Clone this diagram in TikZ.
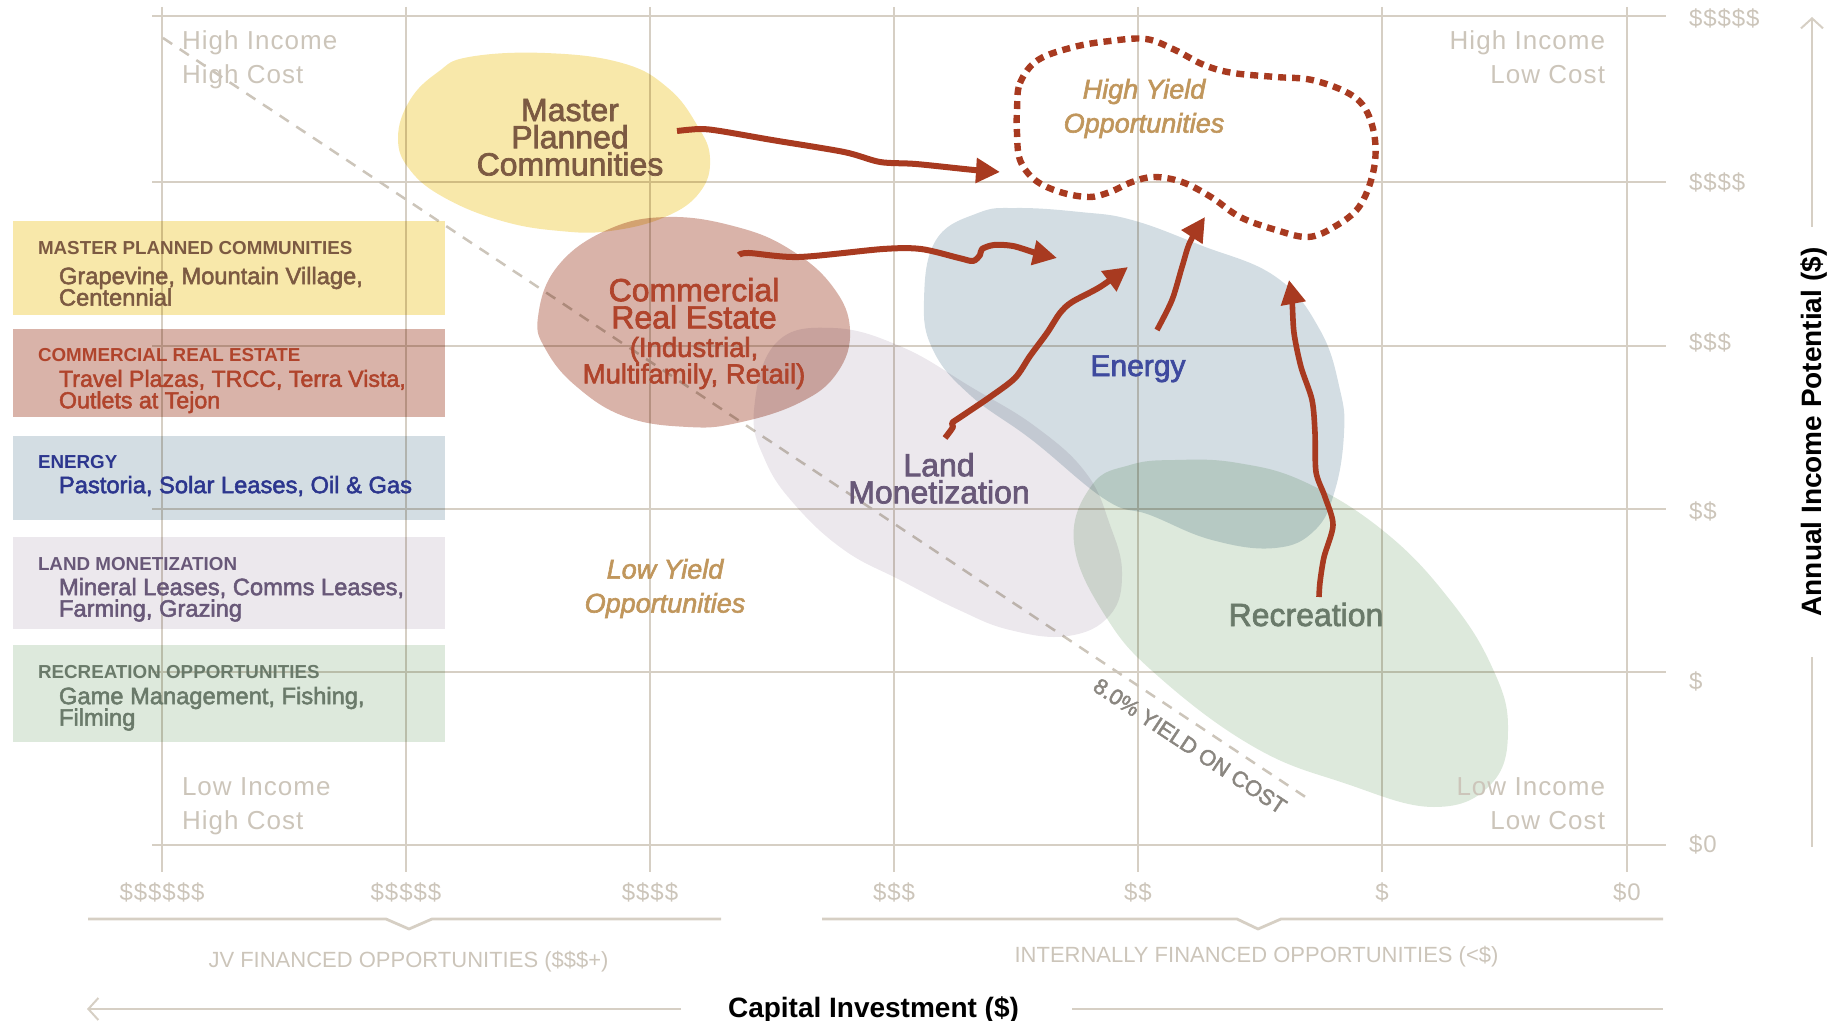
\documentclass[tikz,border=0pt]{standalone}
\usepackage{fontspec}
\setmainfont{Liberation Sans}
\newfontfamily\medium[FakeBold=2.2]{Liberation Sans}
\newfontfamily\tracked[LetterSpace=4]{Liberation Sans}
\usetikzlibrary{arrows.meta}
\newcommand\fsz[2]{\fontsize{#1}{#2}\selectfont\lineskiplimit=-100pt\relax}
\definecolor{gridc}{RGB}{214,207,196}
\definecolor{faint}{RGB}{204,197,186}
\definecolor{rust}{RGB}{168,58,32}
\definecolor{mpcfill}{RGB}{248,232,170}
\definecolor{crefill}{RGB}{217,179,169}
\definecolor{enfill}{RGB}{211,221,227}
\definecolor{lmfill}{RGB}{236,232,237}
\definecolor{recfill}{RGB}{221,233,220}
\definecolor{mpctxt}{RGB}{124,90,66}
\definecolor{cretxt}{RGB}{176,68,44}
\definecolor{entxt}{RGB}{44,54,142}
\definecolor{enlabel}{RGB}{62,74,158}
\definecolor{lmtxt}{RGB}{104,88,120}
\definecolor{rectxt}{RGB}{106,122,106}
\definecolor{yieldtxt}{RGB}{192,150,92}
\definecolor{costtxt}{RGB}{138,134,128}
\begin{document}
\begin{tikzpicture}[x=0.5pt,y=-0.5pt,
  every node/.style={inner sep=0pt,outer sep=0pt},
  vgrid/.style={draw=gridc,line width=0.75pt},
  hgrid/.style={draw=gridc,line width=1pt},
  axisline/.style={draw=gridc,line width=1.4pt},
  axisarrow/.style={axisline,-{Straight Barb[length=5pt,width=11pt,line width=1pt]}},
  quadtxt/.style={text=faint,font=\tracked\fsz{13}{17}},
  ticklab/.style={text=faint,font=\tracked\fsz{12}{14}},
  finlab/.style={text=faint,font=\fsz{11}{13},anchor=base},
  blob/.style={blend mode=multiply},
  legbox/.style={blend mode=multiply},
  leghead/.style={font=\bfseries\fsz{9.4}{11},anchor=base west},
  legbody/.style={font=\medium\fsz{11.85}{10.75},align=left,anchor=north west},
  bubble/.style={font=\medium\fsz{16}{13.6},align=center,anchor=north},
  yieldlab/.style={text=yieldtxt,font=\medium\itshape\fsz{13.5}{17},align=center,anchor=north},
  rustarrow/.style={draw=rust,line width=3pt,line join=round,
    -{Triangle[length=12pt,width=12pt]}},
  hydash/.style={draw=rust,line width=3.2pt,dash pattern=on 4pt off 3pt},
  yieldline/.style={draw=faint,line width=1.25pt,dash pattern=on 5.5pt off 4.5pt}
]
\useasboundingbox (0,0) rectangle (1829,1021);

% ---------- grid ----------
\foreach \gx in {162,406,650,894,1138,1382,1627}
  \draw[vgrid] (\gx,7) -- (\gx,872);
\foreach \gy in {16,182,346,509,672,845}
  \draw[hgrid] (152,\gy) -- (1666,\gy);

% ---------- 8% yield line ----------
\coordinate (yl1) at (163,38);
\coordinate (yl2) at (1307,798);
\draw[yieldline] (yl1) -- (yl2);

% ---------- legend boxes ----------
\fill[legbox,mpcfill] (13,221) rectangle (445,315);
\fill[legbox,crefill] (13,329) rectangle (445,417);
\fill[legbox,enfill]  (13,436) rectangle (445,520);
\fill[legbox,lmfill]  (13,537) rectangle (445,629);
\fill[legbox,recfill] (13,645) rectangle (445,742);

% ---------- opportunity regions ----------
\fill[blob,mpcfill] plot[smooth cycle,tension=0.7] coordinates {
  (469,57) (545,53) (622,63) (668,88) (697,125) (710,158) (700,192)
  (665,217) (610,231) (560,231) (502,221) (445,198) (410,170) (398,138)
  (410,100) (438,72)};
\fill[blob,crefill] plot[smooth cycle,tension=0.7] coordinates {
  (668,217) (737,227) (791,250) (833,287) (850,330) (837,373) (799,403)
  (737,423) (688,427) (626,417) (577,387) (546,350) (538,317) (557,267)
  (607,230)};
\fill[blob,lmfill] plot[smooth cycle,tension=0.7] coordinates {
  (776,343) (833,328) (902,347) (971,387) (1036,427) (1086,473)
  (1110,525) (1122,573) (1110,615) (1068,636) (1010,630) (959,610)
  (900,580) (844,550) (795,505) (765,460) (754,410)};
\fill[blob,enfill] plot[smooth cycle,tension=0.7] coordinates {
  (936,240) (978,213) (1017,208) (1080,212) (1132,220) (1200,245)
  (1276,277) (1320,330) (1340,390) (1344,433) (1335,490) (1315,530)
  (1275,548) (1212,540) (1150,515) (1106,500) (1032,440) (970,395)
  (933,350) (924,300)};
\fill[blob,recfill] plot[smooth cycle,tension=0.7] coordinates {
  (1175,460) (1238,463) (1307,483) (1386,533) (1450,600) (1492,667)
  (1508,727) (1492,783) (1434,807) (1344,783) (1254,747) (1159,677)
  (1106,617) (1074,543) (1092,485) (1130,465)};

% ---------- high yield target ----------
\draw[hydash] plot[smooth cycle,tension=0.6] coordinates {
  (1017,110) (1020,83) (1038,60) (1074,47) (1110,41) (1146,39) (1175,50)
  (1204,65) (1233,73) (1276,77) (1312,80) (1348,93) (1366,110) (1375,140)
  (1373,173) (1359,207) (1334,227) (1308,237) (1276,230) (1240,217)
  (1211,197) (1182,182) (1154,177) (1132,182) (1110,192) (1089,197)
  (1060,192) (1035,180) (1020,160) (1017,133)};

% ---------- quadrant captions ----------
\node[quadtxt,align=left,anchor=north west] (qtl) at (182,30.5) {High Income\\High Cost};
\node[quadtxt,align=right,anchor=north east] (qtr) at (1605,30.5) {High Income\\Low Cost};
\node[quadtxt,align=left,anchor=north west] (qbl) at (182,777.5) {Low Income\\High Cost};
\node[quadtxt,align=right,anchor=north east] (qbr) at (1605,777.5) {Low Income\\Low Cost};

% ---------- tick labels ----------
\foreach \lab/\yy [count=\i] in {\$\$\$\$\$/18,\$\$\$\$/182,\$\$\$/342,\$\$/511,\$/681,\$0/844}
  \node[ticklab,anchor=west] (ytick\i) at (1689,\yy) {\lab};
\foreach \lab/\xx [count=\i] in {\$\$\$\$\$\$/162,\$\$\$\$\$/406,\$\$\$\$/650,\$\$\$/894,\$\$/1138,\$/1382,\$0/1627}
  \node[ticklab,anchor=center] (xtick\i) at (\xx,892) {\lab};

% ---------- financing brackets ----------
\draw[axisline,line join=round] (88,919) -- (386,919) -- (409,929) -- (432,919) -- (721,919);
\draw[axisline,line join=round] (822,919) -- (1237,919) -- (1258,929) -- (1281,919) -- (1663,919);
\node[finlab] (jvlab) at (408.5,967) {JV FINANCED OPPORTUNITIES (\$\$\$+)};
\node[finlab] (intlab) at (1256.5,962) {INTERNALLY FINANCED OPPORTUNITIES (<\$)};

% ---------- axes ----------
\node[font=\bfseries\fsz{14}{16},anchor=base] (xaxis) at (873.5,1017) {Capital Investment (\$)};
\coordinate (xl1) at (681,1009);
\coordinate (xl0) at (87,1009);
\coordinate (xr1) at (1072,1009);
\coordinate (xr2) at (1663,1009);
\draw[axisarrow] (xl1) -- (xl0);
\draw[axisline] (xr1) -- (xr2);
\node[font=\bfseries\fsz{14}{16},rotate=90,anchor=base] (yaxis) at (1821,432) {Annual Income Potential (\$)};
\coordinate (yt1) at (1812,227);
\coordinate (yt0) at (1812,17);
\coordinate (yb1) at (1812,657);
\coordinate (yb2) at (1812,847);
\draw[axisarrow,line width=1.1pt] (yt1) -- (yt0);
\draw[axisline,line width=1.1pt] (yb1) -- (yb2);

% ---------- 8% caption ----------
\node[text=costtxt,font=\medium\fsz{11}{13},rotate=-33.6] (yieldcap) at (1190,746) {8.0\% YIELD ON COST};

% ---------- legend text ----------
\node[leghead,text=mpctxt] (hmpc) at (38,255) {MASTER PLANNED COMMUNITIES};
\node[legbody,text=mpctxt] (bmpc) at (59,267) {Grapevine, Mountain Village,\\Centennial};
\node[leghead,text=cretxt] (hcre) at (38,362) {COMMERCIAL REAL ESTATE};
\node[legbody,text=cretxt,font=\medium\fsz{11.6}{10.75}] (bcre) at (59,370) {Travel Plazas, TRCC, Terra Vista,\\Outlets at Tejon};
\node[leghead,text=entxt] (hen) at (38,468) {ENERGY};
\node[legbody,text=entxt] (ben) at (59,476) {Pastoria, Solar Leases, Oil \& Gas};
\node[leghead,text=lmtxt] (hlm) at (38,570) {LAND MONETIZATION};
\node[legbody,text=lmtxt] (blm) at (59,578) {Mineral Leases, Comms Leases,\\Farming, Grazing};
\node[leghead,text=rectxt] (hrec) at (38,678) {RECREATION OPPORTUNITIES};
\node[legbody,text=rectxt] (brec) at (59,687) {Game Management, Fishing,\\Filming};

% ---------- region labels ----------
\node[bubble,text=mpctxt] (mpc) at (570,99) {Master\\Planned\\Communities};
\node[bubble,text=cretxt] (cre) at (694,278) {Commercial\\Real Estate};
\node[bubble,text=cretxt,font=\medium\fsz{13.75}{13.25}] (cresub) at (694,337) {(Industrial,\\Multifamily, Retail)};
\node[bubble,text=enlabel,font=\medium\fsz{15}{14},anchor=base] (energy) at (1138,376) {Energy};
\node[bubble,text=lmtxt] (land) at (939,453) {Land\\Monetization};
\node[bubble,text=rectxt,anchor=base] (rec) at (1306,626) {Recreation};
\node[yieldlab] (hiyield) at (1144,79) {High Yield\\Opportunities};
\node[yieldlab] (loyield) at (665,559) {Low Yield\\Opportunities};

% ---------- movement arrows ----------
\coordinate (a1s) at (677,131);  \coordinate (a1e) at (1000,172);
\coordinate (a2s) at (739,255);  \coordinate (a2e) at (1057,258);
\coordinate (a3s) at (945,438);  \coordinate (a3e) at (1128,267);
\coordinate (a4s) at (1157,330); \coordinate (a4e) at (1205,217);
\coordinate (a5s) at (1319,597); \coordinate (a5e) at (1289,280);
\draw[rustarrow] plot[smooth,tension=0.5] coordinates {
  (a1s) (700,129) (720,131) (772,140) (844,152) (880,162) (916,164) (974,170) (a1e)};
\draw[rustarrow] plot[smooth,tension=0.5] coordinates {
  (a2s) (749,253) (799,257) (883,249) (921,249) (959,258) (973,261) (980,255)
  (982,249) (994,245) (1013,246) (1036,253) (a2e)};
\draw[rustarrow] plot[smooth,tension=0.5] coordinates {
  (a3s) (953,427) (952,423) (962,416) (990,397) (1015,378) (1030,356)
  (1047,333) (1060,313) (1072,302) (1100,287) (a3e)};
\draw[rustarrow,line width=2.8pt] plot[smooth,tension=0.5] coordinates {
  (a4s) (1172,300) (1182,267) (1190,242) (a4e)};
\draw[rustarrow,line width=2.8pt] plot[smooth,tension=0.5] coordinates {
  (a5s) (1320,582) (1324,557) (1333,525) (1325,497) (1316,472) (1315,433)
  (1312,400) (1301,367) (1294,333) (1292,300) (a5e)};
\end{tikzpicture}
\end{document}
